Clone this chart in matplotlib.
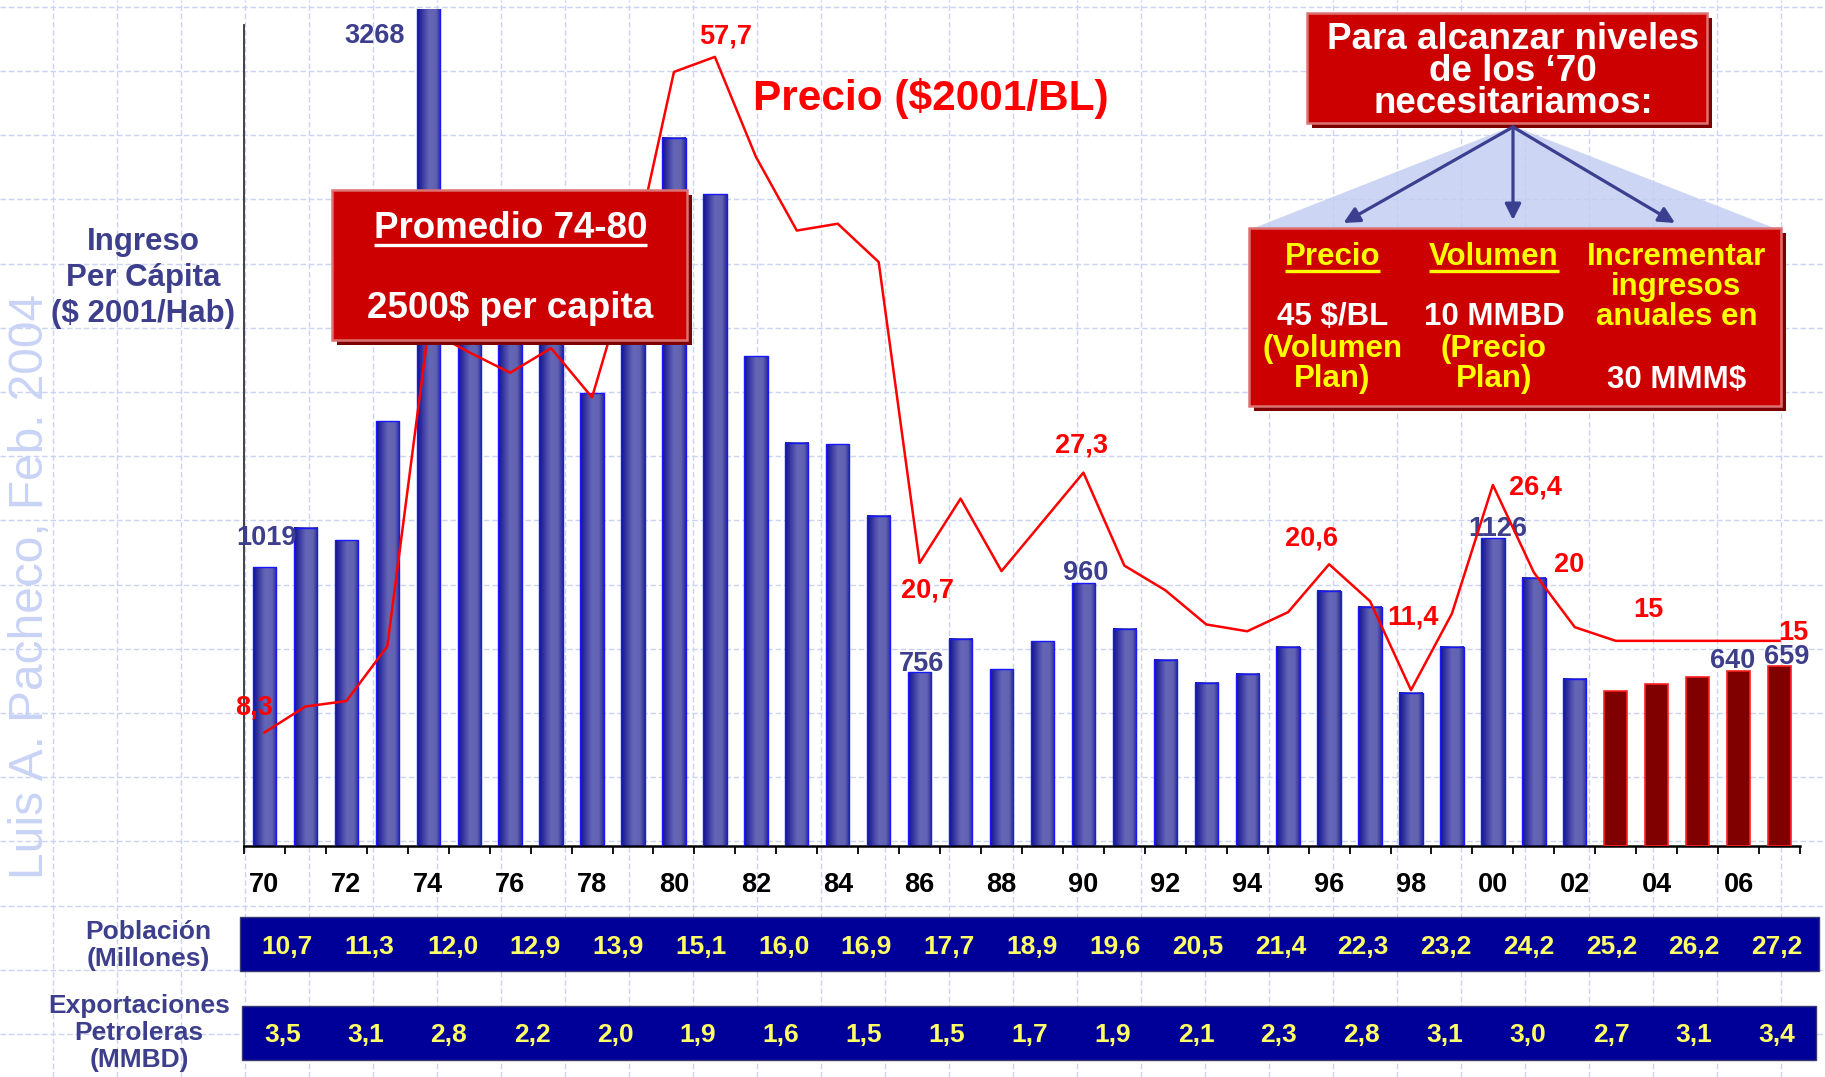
import numpy as np
import matplotlib
matplotlib.use('Agg')
import matplotlib.pyplot as plt
from matplotlib.patches import Rectangle, Polygon
from matplotlib.colors import LinearSegmentedColormap

# ---------------- data ----------------
years = list(range(1970, 2008))
ingreso = [1019, 1164, 1117, 1552, 3268, 2300, 2250, 2350, 1656, 2200,
           2589, 2383, 1791, 1475, 1469, 1208, 636, 758, 646, 748,
           960, 795, 681, 597, 629, 729, 934, 875, 561, 729,
           1126, 981, 612, 568, 591, 618, 640, 659]
proyeccion_desde = 2003
precio = [8.3, 10.2, 10.6, 14.6, 37.7, 36.1, 34.6, 36.4, 32.8, 43.0,
          56.6, 57.7, 50.4, 45.0, 45.5, 42.7, 20.7, 25.4, 20.1, 23.7,
          27.3, 20.5, 18.7, 16.2, 15.7, 17.1, 20.6, 17.9, 11.4, 17.0,
          26.4, 20.0, 16.0, 15.0, 15.0, 15.0, 15.0, 15.0]
tick_years = list(range(1970, 2007, 2))
tick_labels = ['70', '72', '74', '76', '78', '80', '82', '84', '86', '88',
               '90', '92', '94', '96', '98', '00', '02', '04', '06']
bar_label_years = [1974, 1970, 1986, 1990, 2000, 2006, 2007]
bar_label_texts = ['3268', '1019', '756', '960', '1126', '640', '659']
price_label_years = [1970, 1981, 1986, 1990, 1996, 1998, 2000, 2001, 2004, 2007]
price_label_texts = ['8,3', '57,7', '20,7', '27,3', '20,6', '11,4', '26,4', '20', '15', '15']
poblacion = ['10,7', '11,3', '12,0', '12,9', '13,9', '15,1', '16,0', '16,9', '17,7', '18,9',
             '19,6', '20,5', '21,4', '22,3', '23,2', '24,2', '25,2', '26,2', '27,2']
exportaciones = ['3,5', '3,1', '2,8', '2,2', '2,0', '1,9', '1,6', '1,5', '1,5', '1,7',
                 '1,9', '2,1', '2,3', '2,8', '3,1', '3,0', '2,7', '3,1', '3,4']

# ---------------- style ----------------
FONT = ['Liberation Sans', 'DejaVu Sans']
plt.rcParams['font.family'] = FONT
plt.rcParams['font.weight'] = 'bold'
SLATE = '#3d3f8c'
RED = '#ff0000'
GRID = '#c9d4f2'
W, H = 1825, 1077

fig = plt.figure(figsize=(W / 100, H / 100), dpi=100)
fig.patch.set_facecolor('white')

# background grid + watermark (pixel coordinates)
bg = fig.add_axes([0, 0, 1, 1], zorder=0)
bg.set_xlim(0, W); bg.set_ylim(H, 0); bg.axis('off')
for x in np.arange(53, W, 64):
    bg.axvline(x, color=GRID, lw=1.0, ls=(0, (4, 2)))
for y in np.arange(6.7, H, 64.2):
    bg.axhline(y, color=GRID, lw=1.0, ls=(0, (4, 2)))
bg.text(31, 586, 'Luis A. Pacheco, Feb. 2004', rotation=90, ha='center', va='center',
        fontsize=34.5, fontweight='normal', color='#c9d3f5')

# ---------------- main chart ----------------
YTOP = 3060
ax = fig.add_axes([244 / W, 1 - 846 / H, (1800 - 244) / W, (846 - 9) / H], zorder=1)
ax.patch.set_alpha(0)
bw = 0.57
grad_cmap = LinearSegmentedColormap.from_list(
    'g', [(0, '#12128a'), (0.2, '#3434a0'), (0.5, '#6666b6'), (0.8, '#6262b2'), (1, '#2a2a95')])
grad = grad_cmap(np.linspace(0, 1, 64))[None, :, :]
blue_y = [y for y in years if y < proyeccion_desde]
blue_v = [v for y, v in zip(years, ingreso) if y < proyeccion_desde]
red_y = [y for y in years if y >= proyeccion_desde]
red_v = [v for y, v in zip(years, ingreso) if y >= proyeccion_desde]
for yr, v in zip(blue_y, blue_v):
    ax.imshow(grad, extent=[yr - bw / 2, yr + bw / 2, 0, v], aspect='auto',
              interpolation='bilinear', zorder=2)
ax.bar(blue_y, blue_v, width=bw, facecolor='none', edgecolor='#1818ff', lw=1.0, zorder=3)
ax.bar(red_y, red_v, width=bw, facecolor='#800000', edgecolor='#ff2020', lw=1.2, zorder=3)
ax.set_aspect('auto')
ax.set_xlim(1969.5, 2007.5)
ax.set_ylim(0, YTOP)
for s in ['top', 'right']:
    ax.spines[s].set_visible(False)
ax.spines['left'].set_bounds(0, 3000)
ax.spines['left'].set_color('#333333')
ax.spines['left'].set_linewidth(1.3)
ax.spines['bottom'].set_linewidth(1.8)
ax.set_yticks([])
ax.set_xticks(tick_years, tick_labels)
ax.set_xticks(np.arange(1969.5, 2008, 1), minor=True)
ax.tick_params(axis='x', which='major', length=0, pad=19, labelsize=19.5)
ax.tick_params(axis='x', which='minor', length=6, width=1.3, direction='out', color='black')
for lab in ax.get_xticklabels():
    lab.set_fontweight('bold')

bar_offsets = [(-38.7, -65.6), (1.4, 16.3), (1.7, 0.9), (1.9, 2.7), (3.2, 1.7), (-4.5, 2.4), (5.0, 1.4)]
for yr, txt, off in zip(bar_label_years, bar_label_texts, bar_offsets):
    ax.annotate(txt, xy=(yr, ingreso[years.index(yr)]), xytext=off, textcoords='offset points',
                ha='center', va='baseline', fontsize=19.5, fontweight='bold', color=SLATE,
                annotation_clip=False, zorder=6)

ax2 = ax.twinx()
ax2.set_zorder(2)
ax2.set_ylim(0, YTOP / 50)
ax2.set_xlim(1969.5, 2007.5)
ax2.axis('off')
ax2.plot(years, precio, color=RED, lw=1.8, zorder=3)
price_offsets = [(-7.2, 12.8), (7.8, 9.8), (6.0, -25.0), (-1.7, 14.5), (-12.9, 13.5),
                 (1.6, 47.2), (30.5, -6.9), (25.6, 0.6), (-6.0, 17.5), (10.0, 0.9)]
for yr, txt, off in zip(price_label_years, price_label_texts, price_offsets):
    ax2.annotate(txt, xy=(yr, precio[years.index(yr)]), xytext=off, textcoords='offset points',
                 ha='center', va='baseline', fontsize=19.5, fontweight='bold', color=RED,
                 annotation_clip=False)

# ---------------- overlay (pixel coordinates) ----------------
ov = fig.add_axes([0, 0, 1, 1], zorder=3)
ov.set_xlim(0, W); ov.set_ylim(H, 0); ov.axis('off')


def red_box(x0, y0, x1, y1):
    ov.add_patch(Rectangle((x0 + 5, y0 + 5), x1 - x0, y1 - y0, fc='#7d0000', ec='none', zorder=2))
    ov.add_patch(Rectangle((x0, y0), x1 - x0, y1 - y0, fc='#cc0000', ec='#dd7272', lw=1.8, zorder=3))


def txt(x, y, s, color='white', size=22.5, ha='center', **kw):
    return ov.text(x, y, s, ha=ha, va='baseline', fontsize=size, fontweight='bold',
                   color=color, zorder=5, **kw)


# y-axis label
for s, yb in zip(['Ingreso', 'Per Cápita', '($ 2001/Hab)'], [250, 286, 322]):
    txt(143, yb, s, color=SLATE, size=22.5)

# price title
txt(931, 110, 'Precio ($2001/BL)', color=RED, size=30.5)

# Promedio box
red_box(332, 190, 687, 340)
t_prom = txt(510.5, 238.3, 'Promedio 74-80', size=26.5)
txt(510, 318, '2500$ per capita', size=26.5)

# fan + arrows
ov.add_patch(Polygon([(1513, 126), (1254, 228), (1774, 228)], closed=True,
                     fc='#c3cef2', ec='none', alpha=0.85, zorder=1))
for tip in [(1343.5, 223), (1513, 220), (1675, 223)]:
    ov.annotate('', xy=tip, xytext=(1513, 127),
                arrowprops=dict(arrowstyle='-|>', color='#3b3f8f', lw=2.3,
                                mutation_scale=24, shrinkA=0, shrinkB=0), zorder=4)

# top box (one multi-line text; baseline anchors the last line)
red_box(1307, 13, 1707, 123)
txt(1513, 113, 'Para alcanzar niveles\nde los \u201870\nnecesitariamos:', size=26.5,
    multialignment='center', linespacing=0.88)

# lower box
red_box(1249, 228, 1781, 406)
YEL = '#ffff00'
t_p = txt(1332.5, 265, 'Precio', color=YEL)
txt(1332.5, 325, '45 $/BL')
txt(1332.5, 357, '(Volumen', color=YEL)
txt(1332.5, 387, 'Plan)', color=YEL)
t_v = txt(1494, 265, 'Volumen', color=YEL)
txt(1494, 325, '10 MMBD')
txt(1494, 357, '(Precio', color=YEL)
txt(1494, 387, 'Plan)', color=YEL)
txt(1676.5, 265, 'Incrementar', color=YEL)
txt(1676.5, 295, 'ingresos', color=YEL)
txt(1676.5, 325, 'anuales en', color=YEL)
txt(1676.5, 388, '30 MMM$')

# tables
ov.add_patch(Rectangle((240, 917), 1819 - 240, 971 - 917, fc='#000099', ec='#3a3a70', lw=1.0, zorder=2))
ov.add_patch(Rectangle((242, 1006), 1816 - 242, 1060 - 1006, fc='#000099', ec='#3a3a70', lw=1.0, zorder=2))
for s, yb in zip(['Población', '(Millones)'], [939, 966]):
    txt(148, yb, s, color=SLATE, size=19)
for s, yb in zip(['Exportaciones', 'Petroleras', '(MMBD)'], [1013, 1040, 1067]):
    txt(139, yb, s, color=SLATE, size=19)
for xv, s in zip(np.linspace(287, 1777, len(poblacion)), poblacion):
    txt(xv, 954, s, color='#ffff66', size=19)
for xv, s in zip(np.linspace(283, 1777, len(exportaciones)), exportaciones):
    txt(xv, 1042, s, color='#ffff66', size=19)

# underlines
renderer = fig.canvas.get_renderer()
inv = ov.transData.inverted()
for t, yb, col in [(t_prom, 244.5, 'white'), (t_p, 271, YEL), (t_v, 271, YEL)]:
    bb = t.get_window_extent(renderer=renderer)
    xa = inv.transform((bb.x0, bb.y0))[0]
    xb = inv.transform((bb.x1, bb.y0))[0]
    ov.plot([xa, xb], [yb, yb], color=col, lw=2.4, solid_capstyle='butt', zorder=5)

fig.savefig('out.png', dpi=100, facecolor='white')
